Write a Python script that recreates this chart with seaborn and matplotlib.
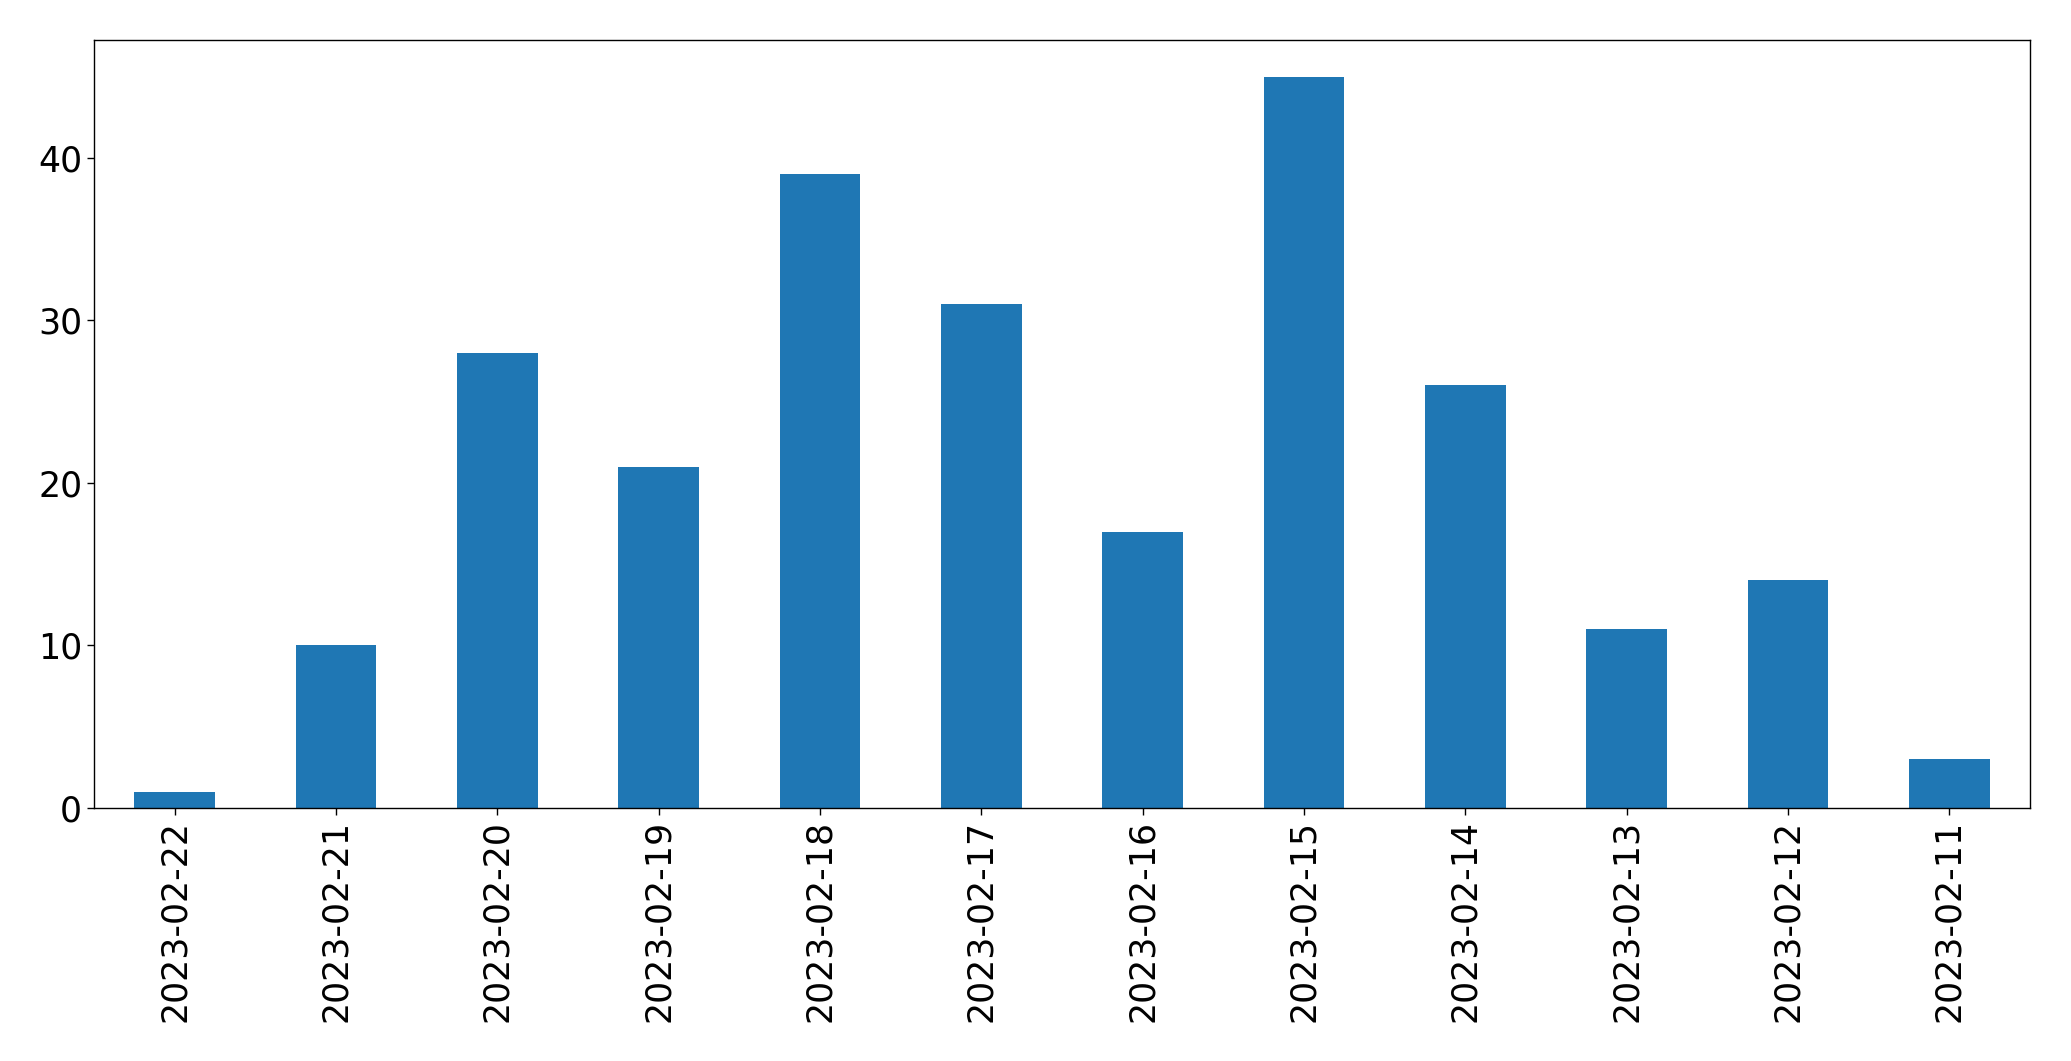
import matplotlib
matplotlib.use("Agg")
import matplotlib.pyplot as plt
import seaborn as sns
import pandas as pd

dates = ["2023-02-22", "2023-02-21", "2023-02-20", "2023-02-19", "2023-02-18", "2023-02-17",
         "2023-02-16", "2023-02-15", "2023-02-14", "2023-02-13", "2023-02-12", "2023-02-11"]
counts = [1, 10, 28, 21, 39, 31, 17, 45, 26, 11, 14, 3]

df = pd.DataFrame({"date": dates, "count": counts})

sns.set_theme(style="white")
plt.rcParams['font.family'] = ['DejaVu Sans']

fig = plt.figure(figsize=(20.71, 10.61), dpi=100)
ax = fig.add_axes([94/2071, 1-808/1061, (2030-94)/2071, (808-40)/1061])
sns.barplot(data=df, x="date", y="count", color="#1f77b4", saturation=1, width=0.5,
            linewidth=0, ax=ax, order=dates)
ax.set_xlim(-0.5, 11.5)
ax.set_ylim(0, 47.25)
ax.set_xlabel("")
ax.set_ylabel("")
for s in ax.spines.values():
    s.set_color("black")
    s.set_linewidth(1)
ax.tick_params(axis="both", which="both", length=5, width=1, color="black", labelcolor="black",
               labelsize=25, bottom=True, left=True)
ax.set_yticks([0, 10, 20, 30, 40])
plt.setp(ax.get_xticklabels(), rotation=90)
fig.savefig("out.png", dpi=100)
